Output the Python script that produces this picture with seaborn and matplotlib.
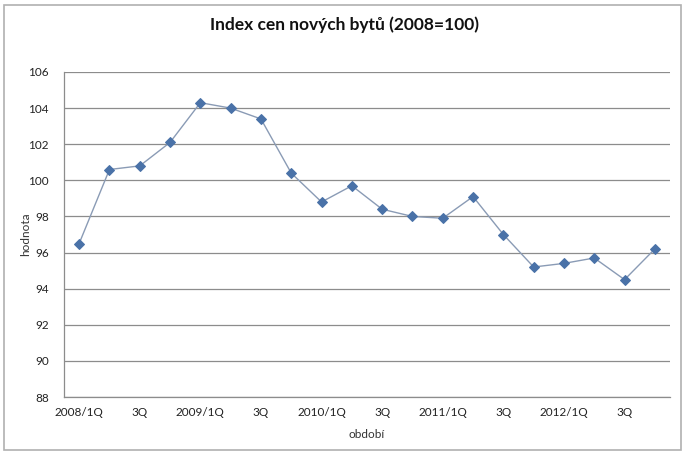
import matplotlib
matplotlib.use("Agg")
import matplotlib.pyplot as plt
import seaborn as sns
import pandas as pd
from matplotlib.patches import Rectangle

quarters = []
for yr in range(2008, 2013):
    for q in range(1, 5):
        quarters.append(f"{yr}/{q}Q")
values = [96.5, 100.6, 100.8, 102.1, 104.3, 104.0, 103.4, 100.4, 98.8, 99.7,
          98.4, 98.0, 97.9, 99.1, 97.0, 95.2, 95.4, 95.7, 94.5, 96.2]
tick_labels = ["2008/1Q", "3Q", "2009/1Q", "3Q", "2010/1Q", "3Q",
               "2011/1Q", "3Q", "2012/1Q", "3Q"]
y_ticks = list(range(88, 107, 2))

df = pd.DataFrame({"obdobi": quarters, "hodnota": values})
df["pos"] = range(len(df))

sns.set_theme(style="white")
plt.rcParams["font.family"] = ["Lato", "DejaVu Sans"]

fig = plt.figure(figsize=(6.88, 4.57), dpi=100)
ax = fig.add_axes([64/688, 1-397/457, (670-64)/688, (397-72)/457])

sns.lineplot(data=df, x="pos", y="hodnota", ax=ax, color="#8a9bb5", linewidth=1.0,
             marker="D", markersize=5.5, markerfacecolor="#4a72a8",
             markeredgecolor="#4a72a8", zorder=3)

ax.set_xlim(-0.5, len(values) - 0.5)
ax.set_ylim(88, 106)
ax.set_yticks(y_ticks)
ax.set_yticklabels([str(v) for v in y_ticks], fontsize=8.5, color="#222222")
ax.set_xticks(df["pos"][::2])
ax.set_xticklabels(tick_labels, fontsize=8.5, color="#222222")
ax.tick_params(axis="both", length=0)
ax.tick_params(axis="y", pad=11)
ax.tick_params(axis="x", pad=7)
ax.grid(axis="y", color="#8c8c8c", linewidth=0.9)
ax.set_axisbelow(True)
for s in ["top", "right"]:
    ax.spines[s].set_visible(False)
for s in ["left", "bottom"]:
    ax.spines[s].set_color("#8c8c8c")
    ax.spines[s].set_linewidth(0.9)

ax.set_xlabel("období", fontsize=8.5, color="#333333", labelpad=8)
ax.set_ylabel("hodnota", fontsize=8.5, color="#333333", labelpad=-2)

fig.text(0.5, 1-25/457, "Index cen nových bytů (2008=100)", ha="center", va="center",
         fontsize=12.5, fontweight="bold", color="#111111")

fig.patches.append(Rectangle((3.5/688, 1-450/457), (681-3.5)/688, (450-5)/457,
                             transform=fig.transFigure, fill=False,
                             edgecolor="#b0b0b0", linewidth=1.2))

fig.savefig("out.png", dpi=100)
